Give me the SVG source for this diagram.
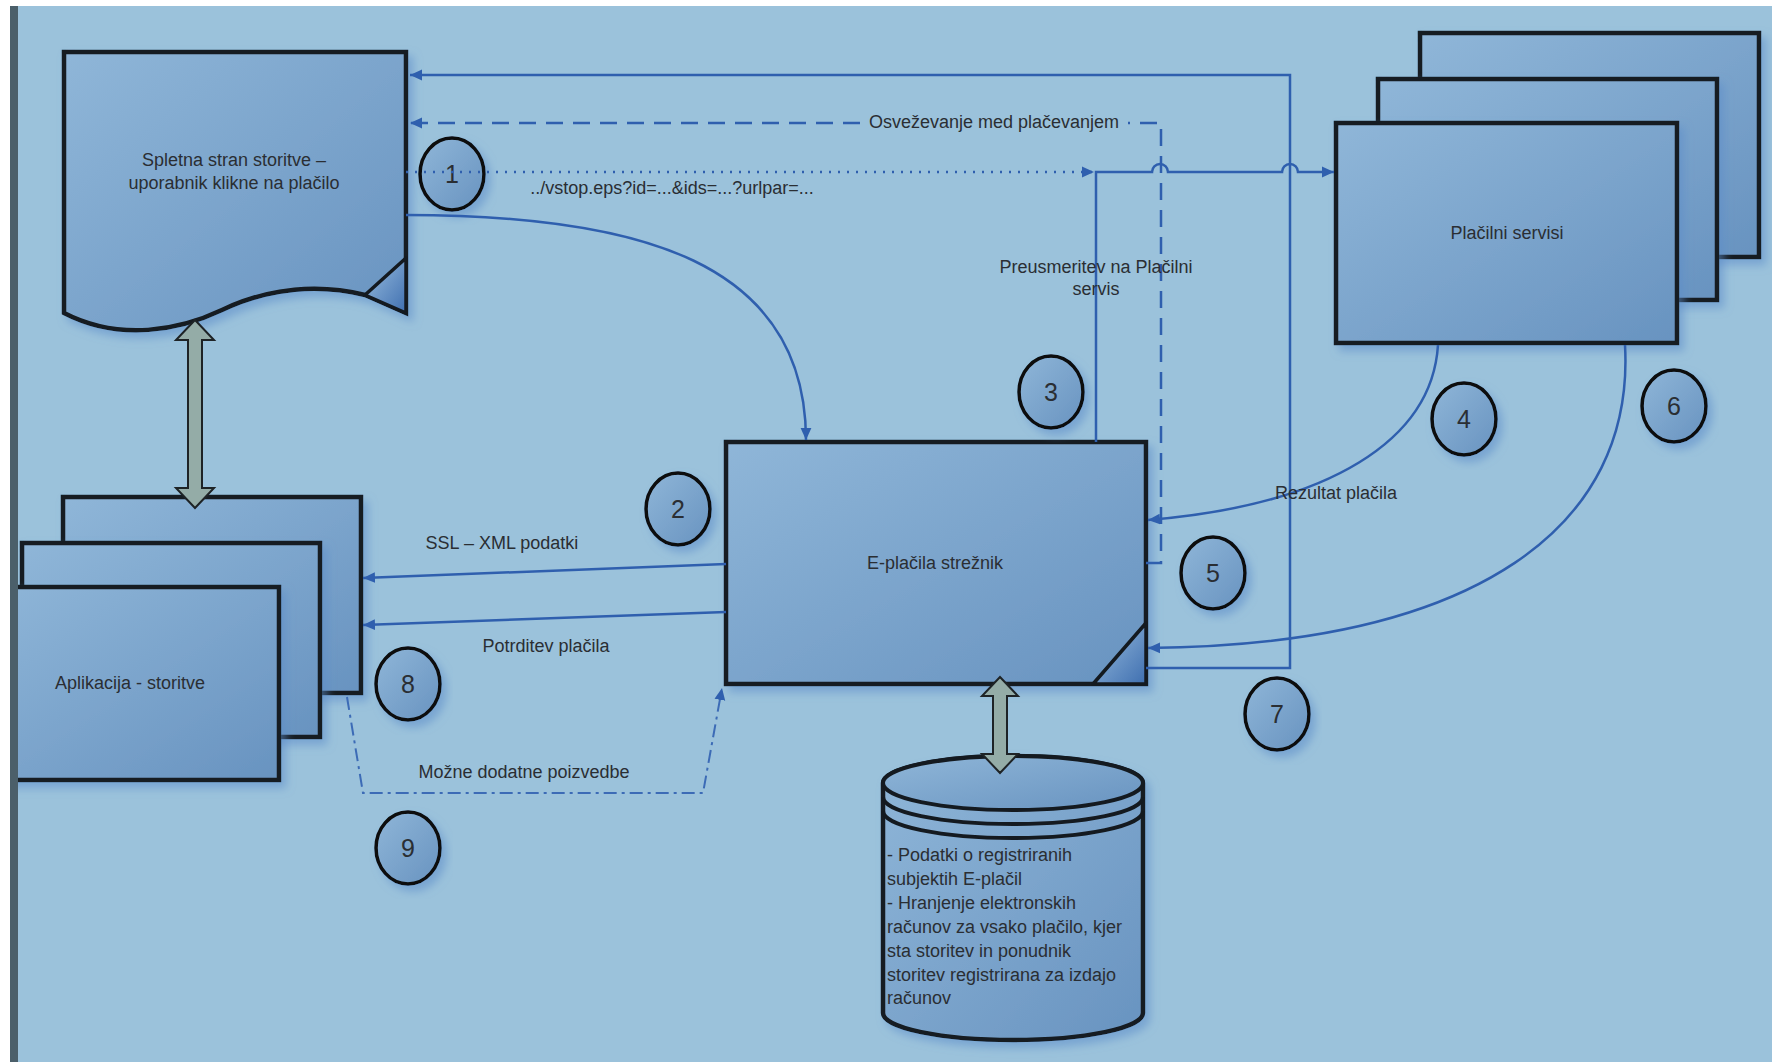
<svg xmlns="http://www.w3.org/2000/svg" width="1772" height="1062" viewBox="0 0 1772 1062">
<defs>
<linearGradient id="g" x1="0" y1="0" x2="1" y2="1">
<stop offset="0" stop-color="#8fb6d8"/>
<stop offset="1" stop-color="#6893c0"/>
</linearGradient>
<linearGradient id="curl" x1="0" y1="0" x2="1" y2="1">
<stop offset="0" stop-color="#9cc0e0"/>
<stop offset="1" stop-color="#3f6fb0"/>
</linearGradient>
<filter id="sh" x="-10%" y="-10%" width="130%" height="130%">
<feDropShadow dx="5" dy="6" stdDeviation="4" flood-color="#5b8cc9" flood-opacity="0.55"/>
</filter>
<marker id="ah" viewBox="0 0 10 10" refX="10" refY="5" markerWidth="12" markerHeight="12" markerUnits="userSpaceOnUse" orient="auto">
<path d="M0,0.5 L10,5 L0,9.5 z" fill="#2f5fae"/>
</marker>
<style>
.box{fill:url(#g);stroke:#141a20;stroke-width:4.5;filter:url(#sh)}
.circ{fill:url(#g);stroke:#0a0a0a;stroke-width:3.5;filter:url(#sh)}
.t{font-family:"Liberation Sans",Arial,sans-serif;font-size:18px;fill:#2a2e33}
.m{text-anchor:middle}
.num{font-family:"Liberation Sans",Arial,sans-serif;font-size:25px;fill:#2a2e33;text-anchor:middle}
.c{fill:none;stroke:#2f5fae;stroke-width:2.5}
.dash{stroke-dasharray:17 10}
.dot{stroke-dasharray:2 7}
.dd{stroke-width:2;stroke:#3c6bb6;stroke-dasharray:13 5 3 5}
.ga{fill:#94aca7;stroke:#1e2326;stroke-width:2}
</style>
</defs>
<rect x="0" y="0" width="1772" height="1062" fill="#9bc2db"/>

<g id="placilni-servisi">
<rect class="box" x="1420" y="33" width="339" height="224"/>
<rect class="box" x="1378" y="79" width="339" height="221"/>
<rect class="box" x="1336" y="123" width="341" height="220"/>
<text class="t m" x="1507" y="239">Plačilni servisi</text>
</g>

<g id="spletna-stran">
<path class="box" d="M64 52 H406 V313 L365 295 C320 284 270 287 222 310 C180 330 120 342 64 313 Z"/>
<path d="M365 295 L406 258 V313 Z" fill="url(#curl)" stroke="#141a20" stroke-width="3.5" stroke-linejoin="round"/>
<text class="t m" x="234" y="166">Spletna stran storitve –</text>
<text class="t m" x="234" y="189">uporabnik klikne na plačilo</text>
</g>

<g id="aplikacija">
<rect class="box" x="63" y="497" width="298" height="196"/>
<rect class="box" x="22" y="543" width="298" height="194"/>
<rect class="box" x="-19" y="587" width="298" height="193"/>
<text class="t m" x="130" y="689">Aplikacija - storitve</text>
</g>

<g id="e-placila-streznik">
<rect class="box" x="726" y="442" width="420" height="242"/>
<path d="M1093 684 L1146 623 V684 Z" fill="url(#curl)" stroke="#141a20" stroke-width="3.5" stroke-linejoin="round"/>
<text class="t m" x="935" y="569">E-plačila strežnik</text>
</g>

<g id="baza">
<path class="box" d="M883 783 V1013 A130 27 0 0 0 1143 1013 V783 A130 27 0 0 0 883 783 Z"/>
<ellipse cx="1013" cy="783" rx="130" ry="27" fill="url(#g)" stroke="#141a20" stroke-width="4"/>
<path d="M883 797 A130 27 0 0 0 1143 797 M883 811 A130 27 0 0 0 1143 811" fill="none" stroke="#141a20" stroke-width="4"/>
<text class="t" x="887" y="861">- Podatki o registriranih</text>
<text class="t" x="887" y="885">subjektih E-plačil</text>
<text class="t" x="887" y="909">- Hranjenje elektronskih</text>
<text class="t" x="887" y="933">računov za vsako plačilo, kjer</text>
<text class="t" x="887" y="957">sta storitev in ponudnik</text>
<text class="t" x="887" y="981">storitev registrirana za izdajo</text>
<text class="t" x="887" y="1004">računov</text>
</g>

<g id="oznake">
<g id="k1"><ellipse class="circ" cx="452" cy="174" rx="32" ry="36"/><text class="num" x="452" y="183">1</text></g>
<g id="k2"><ellipse class="circ" cx="678" cy="509" rx="32" ry="36"/><text class="num" x="678" y="518">2</text></g>
<g id="k3"><ellipse class="circ" cx="1051" cy="392" rx="32" ry="36"/><text class="num" x="1051" y="401">3</text></g>
<g id="k4"><ellipse class="circ" cx="1464" cy="419" rx="32" ry="36"/><text class="num" x="1464" y="428">4</text></g>
<g id="k5"><ellipse class="circ" cx="1213" cy="573" rx="32" ry="36"/><text class="num" x="1213" y="582">5</text></g>
<g id="k6"><ellipse class="circ" cx="1674" cy="406" rx="32" ry="36"/><text class="num" x="1674" y="415">6</text></g>
<g id="k7"><ellipse class="circ" cx="1277" cy="714" rx="32" ry="36"/><text class="num" x="1277" y="723">7</text></g>
<g id="k8"><ellipse class="circ" cx="408" cy="684" rx="32" ry="36"/><text class="num" x="408" y="693">8</text></g>
<g id="k9"><ellipse class="circ" cx="408" cy="848" rx="32" ry="36"/><text class="num" x="408" y="857">9</text></g>
</g>

<g id="povezave">
<path class="c dot" d="M406 172 H1094" marker-end="url(#ah)"/>
<path class="c" d="M406 215 C640 215 806 262 806 440" marker-end="url(#ah)"/>
<path class="c" d="M1096 442 V172 H1152 A8 8 0 0 1 1168 172 H1282 A8 8 0 0 1 1298 172 H1334" marker-end="url(#ah)"/>
<path class="c dash" d="M1146 563 H1161 V123 H1128"/>
<path class="c dash" d="M860 123 H410" marker-end="url(#ah)"/>
<path class="c" d="M1146 668 H1290 V75 H410" marker-end="url(#ah)"/>
<path class="c" d="M1438 345 C1432 440 1330 505 1148 520" marker-end="url(#ah)"/>
<path class="c" d="M1625 345 C1635 525 1480 645 1148 648" marker-end="url(#ah)"/>
<path class="c" d="M726 564 L363 578" marker-end="url(#ah)"/>
<path class="c" d="M726 612 L363 625" marker-end="url(#ah)"/>
<path class="c dd" d="M347 697 L363 793 H703 L722 688" marker-end="url(#ah)"/>
<polygon class="ga" points="195,320 214,340 202,340 202,488 214,488 195,508 176,488 188,488 188,340 176,340"/>
<polygon class="ga" points="1000,677 1018,696 1007,696 1007,754 1018,754 1000,773 982,754 993,754 993,696 982,696"/>
</g>

<g id="oznake-povezav">
<text class="t m" x="994" y="128">Osveževanje med plačevanjem</text>
<text class="t m" x="672" y="194">../vstop.eps?id=...&amp;ids=...?urlpar=...</text>
<text class="t m" x="1096" y="273">Preusmeritev  na Plačilni</text>
<text class="t m" x="1096" y="295">servis</text>
<text class="t m" x="1336" y="499">Rezultat plačila</text>
<text class="t m" x="502" y="549">SSL – XML podatki</text>
<text class="t m" x="546" y="652">Potrditev plačila</text>
<text class="t m" x="524" y="778">Možne dodatne poizvedbe</text>
</g>

<rect x="0" y="0" width="1772" height="6" fill="#ffffff"/>
<rect x="0" y="0" width="10" height="1062" fill="#ffffff"/>
<rect x="10" y="6" width="8" height="1056" fill="#4b5f6a"/>
</svg>
